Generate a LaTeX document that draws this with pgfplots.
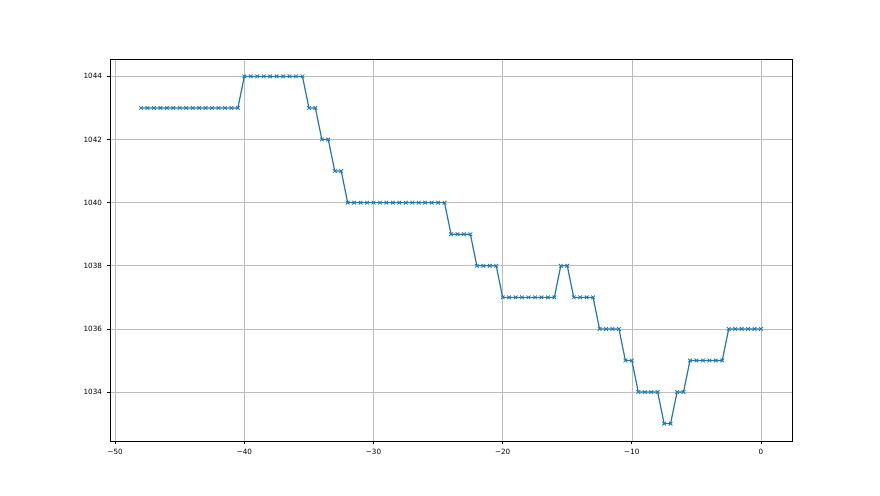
\documentclass[border=0pt]{standalone}
\usepackage{pgfplots}
\pgfplotsset{compat=1.18}
\usepackage{fontspec}
\setmainfont{DejaVu Sans}
\definecolor{mplblue}{HTML}{1F77B4}
\definecolor{mplgrid}{HTML}{B0B0B0}
\begin{document}
\begin{tikzpicture}[x=1pt,y=1pt]
\useasboundingbox (0,0) rectangle (880,495);
\begin{axis}[
  at={(110pt,54pt)}, anchor=south west,
  scale only axis, width=682pt, height=382pt,
  xmin=-50.4, xmax=2.4, ymin=1032.45, ymax=1044.55,
  xtick={-50,-40,-30,-20,-10,0},
  xticklabels={−50,−40,−30,−20,−10,0},
  ytick={1034,1036,1038,1040,1042,1044},
  yticklabels={1034,1036,1038,1040,1042,1044},
  tick align=outside, tick pos=left,
  major tick length=3.5pt,
  every tick/.style={black, line width=0.8pt},
  axis line style={line width=0.8pt},
  grid=major, major grid style={mplgrid!85!white, line width=0.6pt},
  ticklabel style={font=\fontsize{7.2}{8}\selectfont},
  xticklabel style={yshift=-1pt},
  yticklabel style={xshift=-1pt},
]
\addplot[mplblue, line width=1.2pt, mark=x, mark size=2.6pt, mark options={line width=0.8pt}] coordinates {
(-48,1043)(-47.5,1043)(-47,1043)(-46.5,1043)(-46,1043)(-45.5,1043)(-45,1043)(-44.5,1043)
(-44,1043)(-43.5,1043)(-43,1043)(-42.5,1043)(-42,1043)(-41.5,1043)(-41,1043)(-40.5,1043)
(-40,1044)(-39.5,1044)(-39,1044)(-38.5,1044)(-38,1044)(-37.5,1044)(-37,1044)(-36.5,1044)(-36,1044)(-35.5,1044)
(-35,1043)(-34.5,1043)
(-34,1042)(-33.5,1042)
(-33,1041)(-32.5,1041)
(-32,1040)(-31.5,1040)(-31,1040)(-30.5,1040)(-30,1040)(-29.5,1040)(-29,1040)(-28.5,1040)
(-28,1040)(-27.5,1040)(-27,1040)(-26.5,1040)(-26,1040)(-25.5,1040)(-25,1040)(-24.5,1040)
(-24,1039)(-23.5,1039)(-23,1039)(-22.5,1039)
(-22,1038)(-21.5,1038)(-21,1038)(-20.5,1038)
(-20,1037)(-19.5,1037)(-19,1037)(-18.5,1037)(-18,1037)(-17.5,1037)(-17,1037)(-16.5,1037)(-16,1037)
(-15.5,1038)(-15,1038)
(-14.5,1037)(-14,1037)(-13.5,1037)(-13,1037)
(-12.5,1036)(-12,1036)(-11.5,1036)(-11,1036)
(-10.5,1035)(-10,1035)
(-9.5,1034)(-9,1034)(-8.5,1034)(-8,1034)
(-7.5,1033)(-7,1033)
(-6.5,1034)(-6,1034)
(-5.5,1035)(-5,1035)(-4.5,1035)(-4,1035)(-3.5,1035)(-3,1035)
(-2.5,1036)(-2,1036)(-1.5,1036)(-1,1036)(-0.5,1036)(0,1036)
};
\end{axis}
\end{tikzpicture}
\end{document}
